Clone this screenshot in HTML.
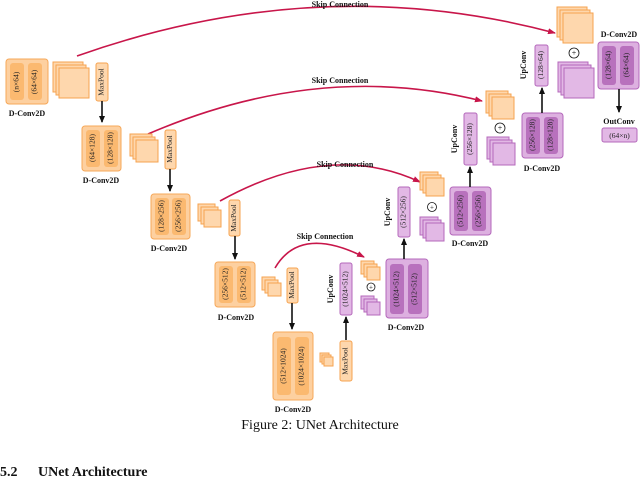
<!DOCTYPE html>
<html><head><meta charset="utf-8"><style>
body{margin:0;background:#fff}
svg{display:block;font-family:"Liberation Serif",serif}
.ob{fill:#fdd0a0;stroke:#f6a85a;stroke-width:1}
.oi{fill:#fbb970;stroke:none}
.os{fill:#fed7ad;stroke:#f6a350;stroke-width:1}
.pb{fill:#ddb0e0;stroke:#b468bb;stroke-width:1}
.pi{fill:#b871bd;stroke:none}
.ps{fill:#e2b8e5;stroke:#b468bb;stroke-width:1}
.t{font-size:7.5px;fill:#222}
.b{font-size:8px;font-weight:bold;fill:#111}
.sk{fill:none;stroke:#c8164a;stroke-width:1.6}
.ar{stroke:#111;stroke-width:1.6}
</style></head><body>
<svg width="640" height="479" viewBox="0 0 640 479" xmlns="http://www.w3.org/2000/svg">
<defs>
<marker id="rh" markerWidth="8" markerHeight="6" refX="7" refY="3" orient="auto" markerUnits="userSpaceOnUse"><path d="M0,0 L8,3 L0,6 z" fill="#c8164a"/></marker>
<marker id="bh" markerWidth="7" markerHeight="6" refX="6" refY="3" orient="auto" markerUnits="userSpaceOnUse"><path d="M0,0 L7,3 L0,6 z" fill="#111"/></marker>
</defs>

<path class="sk" d="M77,56 Q320,-30 555,33" marker-end="url(#rh)"/>
<text class="b" x="340" y="7" text-anchor="middle">Skip Connection</text>
<path class="sk" d="M148,134 Q320,60 482,101" marker-end="url(#rh)"/>
<text class="b" x="340" y="83" text-anchor="middle">Skip Connection</text>
<path class="sk" d="M220,201 Q330,140 420,182" marker-end="url(#rh)"/>
<text class="b" x="345" y="167" text-anchor="middle">Skip Connection</text>
<path class="sk" d="M275,268 Q300,225 364,257" marker-end="url(#rh)"/>
<text class="b" x="325" y="239" text-anchor="middle">Skip Connection</text>

<rect class="ob" x="6" y="59" width="42" height="45" rx="3"/>
<rect class="oi" x="10" y="63" width="14" height="37" rx="3"/>
<rect class="oi" x="28" y="63" width="14" height="37" rx="3"/>
<text class="t" transform="translate(17,82) rotate(-90)" text-anchor="middle" dominant-baseline="middle">(n×64)</text>
<text class="t" transform="translate(35,82) rotate(-90)" text-anchor="middle" dominant-baseline="middle">(64×64)</text>
<text class="b" x="27" y="116" text-anchor="middle">D-Conv2D</text>
<rect class="os" x="53" y="62" width="30" height="30"/><rect class="os" x="56" y="65" width="30" height="30"/><rect class="os" x="59" y="68" width="30" height="30"/>
<rect class="os" x="96" y="63" width="12" height="38" rx="2"/>
<text class="t" transform="translate(102,82) rotate(-90)" text-anchor="middle" dominant-baseline="middle">MaxPool</text>
<line class="ar" x1="102" y1="101" x2="102" y2="122" marker-end="url(#bh)"/>

<rect class="ob" x="82" y="126" width="39" height="45" rx="3"/>
<rect class="oi" x="86" y="130" width="14" height="37" rx="3"/>
<rect class="oi" x="104" y="130" width="14" height="37" rx="3"/>
<text class="t" transform="translate(93,148) rotate(-90)" text-anchor="middle" dominant-baseline="middle">(64×128)</text>
<text class="t" transform="translate(111,148) rotate(-90)" text-anchor="middle" dominant-baseline="middle">(128×128)</text>
<text class="b" x="101" y="183" text-anchor="middle">D-Conv2D</text>
<rect class="os" x="130" y="134" width="22" height="22"/><rect class="os" x="133" y="137" width="22" height="22"/><rect class="os" x="136" y="140" width="22" height="22"/>
<rect class="os" x="165" y="130" width="11" height="39" rx="2"/>
<text class="t" transform="translate(170.5,149) rotate(-90)" text-anchor="middle" dominant-baseline="middle">MaxPool</text>
<line class="ar" x1="170" y1="169" x2="170" y2="191" marker-end="url(#bh)"/>

<rect class="ob" x="151" y="194" width="39" height="45" rx="3"/>
<rect class="oi" x="155" y="198" width="14" height="37" rx="3"/>
<rect class="oi" x="172" y="198" width="14" height="37" rx="3"/>
<text class="t" transform="translate(162,216) rotate(-90)" text-anchor="middle" dominant-baseline="middle">(128×256)</text>
<text class="t" transform="translate(179,216) rotate(-90)" text-anchor="middle" dominant-baseline="middle">(256×256)</text>
<text class="b" x="169" y="251" text-anchor="middle">D-Conv2D</text>
<rect class="os" x="198" y="204" width="17" height="17"/><rect class="os" x="201" y="207" width="17" height="17"/><rect class="os" x="204" y="210" width="17" height="17"/>
<rect class="os" x="229" y="200" width="11" height="36" rx="2"/>
<text class="t" transform="translate(234.5,218) rotate(-90)" text-anchor="middle" dominant-baseline="middle">MaxPool</text>
<line class="ar" x1="235" y1="236" x2="235" y2="259" marker-end="url(#bh)"/>

<rect class="ob" x="215" y="262" width="40" height="45" rx="3"/>
<rect class="oi" x="219" y="266" width="14" height="37" rx="3"/>
<rect class="oi" x="237" y="266" width="14" height="37" rx="3"/>
<text class="t" transform="translate(226,284) rotate(-90)" text-anchor="middle" dominant-baseline="middle">(256×512)</text>
<text class="t" transform="translate(244,284) rotate(-90)" text-anchor="middle" dominant-baseline="middle">(512×512)</text>
<text class="b" x="236" y="320" text-anchor="middle">D-Conv2D</text>
<rect class="os" x="262" y="277" width="13" height="13"/><rect class="os" x="265" y="280" width="13" height="13"/><rect class="os" x="268" y="283" width="13" height="13"/>
<rect class="os" x="287" y="268" width="11" height="35" rx="2"/>
<text class="t" transform="translate(292.5,285) rotate(-90)" text-anchor="middle" dominant-baseline="middle">MaxPool</text>
<line class="ar" x1="292" y1="303" x2="292" y2="329" marker-end="url(#bh)"/>

<rect class="ob" x="273" y="332" width="40" height="68" rx="3"/>
<rect class="oi" x="277" y="337" width="14" height="58" rx="3"/>
<rect class="oi" x="295" y="337" width="14" height="58" rx="3"/>
<text class="t" transform="translate(284,366) rotate(-90)" text-anchor="middle" dominant-baseline="middle">(512×1024)</text>
<text class="t" transform="translate(302,366) rotate(-90)" text-anchor="middle" dominant-baseline="middle">(1024×1024)</text>
<text class="b" x="293" y="412" text-anchor="middle">D-Conv2D</text>
<rect class="os" x="320" y="353" width="9" height="9"/><rect class="os" x="322" y="355" width="9" height="9"/><rect class="os" x="324" y="357" width="9" height="9"/>
<rect class="os" x="340" y="341" width="12" height="40" rx="2"/>
<text class="t" transform="translate(346,361) rotate(-90)" text-anchor="middle" dominant-baseline="middle">MaxPool</text>
<line class="ar" x1="346" y1="340" x2="346" y2="317" marker-end="url(#bh)"/>

<text class="b" transform="translate(331,289) rotate(-90)" text-anchor="middle" dominant-baseline="middle">UpConv</text>
<rect class="ps" x="340" y="263" width="12" height="52" rx="2"/>
<text class="t" transform="translate(346,289) rotate(-90)" text-anchor="middle" dominant-baseline="middle">(1024×512)</text>
<rect class="os" x="361" y="261" width="13" height="13"/><rect class="os" x="364" y="264" width="13" height="13"/><rect class="os" x="367" y="267" width="13" height="13"/>
<circle cx="371" cy="287" r="4" fill="#fff" stroke="#111" stroke-width="0.8"/><text x="371" y="289.5" font-size="7" text-anchor="middle" fill="#111">+</text>
<rect class="ps" x="361" y="296" width="13" height="13"/><rect class="ps" x="364" y="299" width="13" height="13"/><rect class="ps" x="367" y="302" width="13" height="13"/>
<rect class="pb" x="386" y="259" width="42" height="59" rx="3"/>
<rect class="pi" x="390" y="264" width="14" height="50" rx="3"/>
<rect class="pi" x="408" y="264" width="14" height="50" rx="3" fill="#c482c8"/>
<text class="t" transform="translate(397,289) rotate(-90)" text-anchor="middle" dominant-baseline="middle">(1024×512)</text>
<text class="t" transform="translate(415,289) rotate(-90)" text-anchor="middle" dominant-baseline="middle">(512×512)</text>
<text class="b" x="406" y="330" text-anchor="middle">D-Conv2D</text>
<line class="ar" x1="404" y1="259" x2="404" y2="239" marker-end="url(#bh)"/>

<text class="b" transform="translate(388,212) rotate(-90)" text-anchor="middle" dominant-baseline="middle">UpConv</text>
<rect class="ps" x="398" y="187" width="12" height="50" rx="2"/>
<text class="t" transform="translate(404,212) rotate(-90)" text-anchor="middle" dominant-baseline="middle">(512×256)</text>
<rect class="os" x="420" y="172" width="18" height="18"/><rect class="os" x="423" y="175" width="18" height="18"/><rect class="os" x="426" y="178" width="18" height="18"/>
<circle cx="432" cy="207" r="4.5" fill="#fff" stroke="#111" stroke-width="0.8"/><text x="432" y="209.5" font-size="7" text-anchor="middle" fill="#111">+</text>
<rect class="ps" x="420" y="217" width="18" height="18"/><rect class="ps" x="423" y="220" width="18" height="18"/><rect class="ps" x="426" y="223" width="18" height="18"/>
<rect class="pb" x="450" y="187" width="41" height="48" rx="3"/>
<rect class="pi" x="454" y="191" width="14" height="40" rx="3"/>
<rect class="pi" x="472" y="191" width="14" height="40" rx="3"/>
<text class="t" transform="translate(461,211) rotate(-90)" text-anchor="middle" dominant-baseline="middle">(512×256)</text>
<text class="t" transform="translate(479,211) rotate(-90)" text-anchor="middle" dominant-baseline="middle">(256×256)</text>
<text class="b" x="470" y="246" text-anchor="middle">D-Conv2D</text>
<line class="ar" x1="470" y1="187" x2="470" y2="167" marker-end="url(#bh)"/>

<text class="b" transform="translate(455,139) rotate(-90)" text-anchor="middle" dominant-baseline="middle">UpConv</text>
<rect class="ps" x="464" y="113" width="13" height="52" rx="2"/>
<text class="t" transform="translate(470.5,139) rotate(-90)" text-anchor="middle" dominant-baseline="middle">(256×128)</text>
<rect class="os" x="486" y="91" width="22" height="22"/><rect class="os" x="489" y="94" width="22" height="22"/><rect class="os" x="492" y="97" width="22" height="22"/>
<circle cx="500" cy="128" r="5" fill="#fff" stroke="#111" stroke-width="0.8"/><text x="500" y="130.5" font-size="8" text-anchor="middle" fill="#111">+</text>
<rect class="ps" x="487" y="137" width="22" height="22"/><rect class="ps" x="490" y="140" width="22" height="22"/><rect class="ps" x="493" y="143" width="22" height="22"/>
<rect class="pb" x="522" y="113" width="41" height="45" rx="3"/>
<rect class="pi" x="526" y="117" width="14" height="37" rx="3"/>
<rect class="pi" x="544" y="117" width="14" height="37" rx="3"/>
<text class="t" transform="translate(533,135) rotate(-90)" text-anchor="middle" dominant-baseline="middle">(256×128)</text>
<text class="t" transform="translate(551,135) rotate(-90)" text-anchor="middle" dominant-baseline="middle">(128×128)</text>
<text class="b" x="542" y="171" text-anchor="middle">D-Conv2D</text>
<line class="ar" x1="542" y1="113" x2="542" y2="88" marker-end="url(#bh)"/>

<text class="b" transform="translate(524,65) rotate(-90)" text-anchor="middle" dominant-baseline="middle">UpConv</text>
<rect class="ps" x="535" y="45" width="13" height="41" rx="2"/>
<text class="t" transform="translate(541.5,65) rotate(-90)" text-anchor="middle" dominant-baseline="middle">(128×64)</text>
<rect class="os" x="557" y="7" width="30" height="30"/><rect class="os" x="560" y="10" width="30" height="30"/><rect class="os" x="563" y="13" width="30" height="30"/>
<circle cx="574" cy="53" r="5" fill="#fff" stroke="#111" stroke-width="0.8"/><text x="574" y="55.5" font-size="8" text-anchor="middle" fill="#111">+</text>
<rect class="ps" x="558" y="62" width="30" height="30"/><rect class="ps" x="561" y="65" width="30" height="30"/><rect class="ps" x="564" y="68" width="30" height="30"/>
<text class="b" x="619" y="37" text-anchor="middle">D-Conv2D</text>
<rect class="pb" x="598" y="42" width="41" height="47" rx="3"/>
<rect class="pi" x="602" y="46" width="14" height="39" rx="3"/>
<rect class="pi" x="620" y="46" width="14" height="39" rx="3"/>
<text class="t" transform="translate(609,65) rotate(-90)" text-anchor="middle" dominant-baseline="middle">(128×64)</text>
<text class="t" transform="translate(627,65) rotate(-90)" text-anchor="middle" dominant-baseline="middle">(64×64)</text>
<line class="ar" x1="619" y1="89" x2="619" y2="112" marker-end="url(#bh)"/>
<text class="b" x="619" y="124" text-anchor="middle">OutConv</text>
<rect class="ps" x="602" y="128" width="35" height="14" rx="2"/>
<text class="t" x="619.5" y="138" text-anchor="middle">(64×n)</text>

<text x="320" y="429" font-size="14" text-anchor="middle" fill="#111">Figure 2: UNet Architecture</text>
<text x="0" y="476" font-size="14" font-weight="bold" fill="#111">5.2<tspan x="38">UNet Architecture</tspan></text>
</svg>
</body></html>
